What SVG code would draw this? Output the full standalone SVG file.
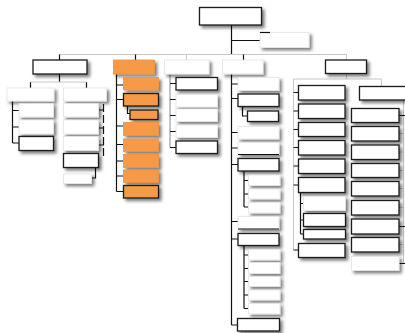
<svg xmlns="http://www.w3.org/2000/svg" width="405" height="333" viewBox="0 0 405 333">
<defs>
<filter id="sh" x="-20%" y="-30%" width="150%" height="180%">
<feDropShadow dx="2.5" dy="2.5" stdDeviation="1.4" flood-color="#000" flood-opacity="0.5"/>
</filter>
<style>
rect{filter:url(#sh)}
.b{fill:#fff;stroke:#1a1a1a;stroke-width:1.3}
.w{fill:#fff;stroke:#e4e4e4;stroke-width:0.8}
.o{fill:#F79A46;stroke:#F0903C;stroke-width:0.8}
.ob{fill:#F79A46;stroke:#1a1a1a;stroke-width:1.3}
.ln{fill:none;stroke:#111;stroke-width:1.2}
.lg{fill:none;stroke:#c8c8c8;stroke-width:1}
.lm{fill:none;stroke:#8a8a8a;stroke-width:1}
.ld{fill:none;stroke:#111;stroke-width:1.2;stroke-dasharray:8 3}
</style>
</defs>
<rect x="0" y="0" width="405" height="333" fill="#fff" style="filter:none"/>
<g id="connectors">
<path class="ln" d="M231.5 25V54.5M231.5 40.5H260"/>
<path class="lg" d="M59.5 54.5H346.5M186.5 54.5V60M346.5 54.5V60"/>
<path class="ln" d="M59.5 54.5V60M135.5 54.5V60M243.5 54.5V60"/>
<path class="ln" d="M59.5 74V82M30.5 82V88M86.5 82V88"/>
<path class="lg" d="M30.5 82H86.5"/>
<path class="ln" d="M12.5 101V143M12.5 110.5H19M12.5 127H19M12.5 143H19"/>
<path class="ld" d="M103.5 104V159"/>
<path class="ln" d="M98.5 110H104M98.5 128H104M98.5 145H104M95.5 167.5V178H91.5"/>
<path class="ln" d="M116.5 74V191.5M116.5 85H123.5M116.5 99.5H123.5M116.5 126H123.5M116.5 144.5H123.5M116.5 161H123.5M116.5 176H123.5M116.5 191.5H123.5M127.5 106V113.5H130"/>
<path class="lm" d="M170 74V147.5"/>
<path class="ln" d="M170 83.5H176M170 99.5H176M170 115.5H176M170 131.5H176M170 147.5H176"/>
<path class="ln" d="M231.5 74V325M231.5 84H238M231.5 98.5H238M231.5 132.5H238M231.5 148H238M231.5 164.5H238M231.5 221.5H238M231.5 239H238M231.5 325H238M242.5 106.5V116H247.5"/>
<path class="ln" d="M244 171V207M244 180.5H248.5M244 194H248.5M244 207H248.5"/>
<path class="ln" d="M244 245.5V308.5M244 255H248.5M244 268.5H248.5M244 281.5H248.5M244 295H248.5M244 308.5H248.5"/>
<path class="lg" d="M346.5 73.5V79M293.5 79H381.5M293.5 79V250M381.5 79V86.5"/>
<path class="ln" d="M293.5 92.5H298.5M293.5 111H298.5M293.5 129.5H298.5M293.5 147.5H298.5M293.5 166H298.5M293.5 185H298.5M293.5 250H298.5"/>
<path class="ln" d="M300.5 192.5V234M300.5 203.5H303.5M300.5 220H303.5M300.5 234H303.5"/>
<path class="lg" d="M403.5 100V264M399 133.5H404M399 152H404M399 170.5H404M399 188.5H404M399 207.5H404M399 244.5H404"/>
<path class="ln" d="M399 115.5H405M399 226.5H405M399 263.5H405"/>
</g>
<g id="root"><rect class="b" x="199.5" y="7.5" width="62" height="17.5"/></g>
<g id="assistant"><rect class="w" x="260" y="32.5" width="49" height="15"/><path class="ln" d="M260 32.5H270"/></g>
<g id="colA"><rect class="b" x="33" y="60" width="54" height="14"/></g>
<g id="colA1"><rect class="w" x="7" y="88" width="47" height="13"/></g>
<g id="colA1-1"><rect class="w" x="19" y="103.5" width="34.5" height="13.5"/></g>
<g id="colA1-2"><rect class="w" x="19" y="120" width="34.5" height="14"/></g>
<g id="colA1-3"><rect class="b" x="19" y="136.5" width="34.5" height="14"/></g>
<g id="colA2"><rect class="w" x="63.5" y="88" width="43" height="13"/></g>
<g id="colA2-1"><rect class="w" x="63.5" y="103.5" width="35" height="13.5"/></g>
<g id="colA2-2"><rect class="w" x="63.5" y="120" width="35" height="14"/></g>
<g id="colA2-3"><rect class="w" x="63.5" y="136.5" width="35" height="14"/></g>
<g id="colA2-4"><rect class="b" x="63.5" y="153.5" width="35" height="14"/></g>
<g id="colA2-5"><rect class="w" x="63.5" y="174" width="28" height="9.5"/></g>
<g id="colC"><rect class="o" x="113.5" y="60" width="41" height="14"/></g>
<g id="colC-1"><rect class="o" x="123.5" y="77.5" width="35" height="12.5"/></g>
<g id="colC-2"><rect class="ob" x="123.5" y="93.5" width="35" height="12.5"/></g>
<g id="colC-2a"><rect class="ob" x="130" y="110" width="28" height="9.5"/></g>
<g id="colC-3"><rect class="o" x="123.5" y="122.5" width="35" height="13"/></g>
<g id="colC-4"><rect class="o" x="123.5" y="139" width="35" height="12.5"/></g>
<g id="colC-5"><rect class="o" x="123.5" y="154.5" width="35" height="13"/></g>
<g id="colC-6"><rect class="o" x="123.5" y="170" width="35" height="12.5"/></g>
<g id="colC-7"><rect class="ob" x="123.5" y="185.5" width="35" height="12.5"/></g>
<g id="colD"><rect class="w" x="164.5" y="60" width="44.5" height="14"/></g>
<g id="colD-1"><rect class="b" x="176" y="77.5" width="41.5" height="12.5"/></g>
<g id="colD-2"><rect class="w" x="176" y="94.5" width="41.5" height="12.5"/></g>
<g id="colD-3"><rect class="w" x="176" y="109" width="41.5" height="12.5"/></g>
<g id="colD-4"><rect class="w" x="176" y="125" width="41.5" height="12.5"/></g>
<g id="colD-5"><rect class="b" x="176" y="141" width="41.5" height="12.5"/></g>
<g id="colE"><rect class="w" x="222.5" y="60" width="40.5" height="14"/></g>
<g id="colE-1"><rect class="w" x="238" y="77.5" width="41" height="13"/></g>
<g id="colE-2"><rect class="b" x="238" y="94" width="41" height="12.5"/></g>
<g id="colE-2a"><rect class="b" x="247.5" y="111" width="31" height="10.5"/></g>
<g id="colE-3"><rect class="w" x="238" y="126.5" width="41" height="12.5"/></g>
<g id="colE-4"><rect class="w" x="238" y="142.5" width="41" height="12"/><path class="ln" d="M238 154.5H279"/></g>
<g id="colE-5"><rect class="b" x="238" y="158.5" width="41" height="12.5"/></g>
<g id="colE-5a"><rect class="w" x="248.5" y="175" width="31.5" height="10.5"/></g>
<g id="colE-5b"><rect class="w" x="248.5" y="189" width="31.5" height="10"/></g>
<g id="colE-5c"><rect class="w" x="248.5" y="202.5" width="31.5" height="10.5"/></g>
<g id="colE-6"><rect class="w" x="238" y="216.5" width="41" height="12.5"/><path class="ln" d="M238 229H279"/></g>
<g id="colE-7"><rect class="b" x="238" y="233.5" width="41" height="12"/></g>
<g id="colE-7a"><rect class="w" x="248.5" y="249.5" width="31.5" height="10.5"/></g>
<g id="colE-7b"><rect class="w" x="248.5" y="262.5" width="31.5" height="11"/></g>
<g id="colE-7c"><rect class="w" x="248.5" y="276.5" width="31.5" height="10"/></g>
<g id="colE-7d"><rect class="w" x="248.5" y="290" width="31.5" height="10"/></g>
<g id="colE-7e"><rect class="w" x="248.5" y="303.5" width="31.5" height="10.5"/></g>
<g id="colE-8"><rect class="b" x="237.5" y="318.5" width="42" height="12.5"/></g>
<g id="colF"><rect class="b" x="325.5" y="60" width="41" height="13.5"/></g>
<g id="colF-1"><rect class="b" x="298.5" y="85.5" width="46.5" height="14.5"/></g>
<g id="colF-2"><rect class="b" x="298.5" y="104" width="46.5" height="14.5"/></g>
<g id="colF-3"><rect class="b" x="298.5" y="122.5" width="46.5" height="14"/></g>
<g id="colF-4"><rect class="b" x="298.5" y="140.5" width="46.5" height="14.5"/></g>
<g id="colF-5"><rect class="b" x="298.5" y="159" width="46.5" height="14.5"/></g>
<g id="colF-6"><rect class="b" x="298.5" y="177.5" width="46.5" height="15"/></g>
<g id="colF-6a"><rect class="w" x="303.5" y="196.5" width="42" height="14"/></g>
<g id="colF-6b"><rect class="b" x="303.5" y="213.5" width="42" height="13"/></g>
<g id="colF-6c"><rect class="b" x="303.5" y="229.5" width="42" height="9.5"/></g>
<g id="colF-7"><rect class="b" x="298.5" y="243.5" width="46.5" height="14"/></g>
<g id="colG"><rect class="b" x="359.5" y="86.5" width="50" height="13.5"/></g>
<g id="colG-1"><rect class="b" x="351.5" y="108.5" width="47.5" height="14"/></g>
<g id="colG-2"><rect class="b" x="351.5" y="126.5" width="47.5" height="14.5"/></g>
<g id="colG-3"><rect class="b" x="351.5" y="145" width="47.5" height="14.5"/></g>
<g id="colG-4"><rect class="b" x="351.5" y="163.5" width="47.5" height="14"/></g>
<g id="colG-5"><rect class="b" x="351.5" y="181.5" width="47.5" height="14.5"/></g>
<g id="colG-6"><rect class="b" x="351.5" y="200.5" width="47.5" height="14.5"/></g>
<g id="colG-7"><rect class="b" x="351.5" y="219" width="47.5" height="15"/></g>
<g id="colG-8"><rect class="b" x="351.5" y="237.5" width="47.5" height="14.5"/></g>
<g id="colG-9"><rect class="w" x="351.5" y="256.5" width="47.5" height="14"/></g>
</svg>
